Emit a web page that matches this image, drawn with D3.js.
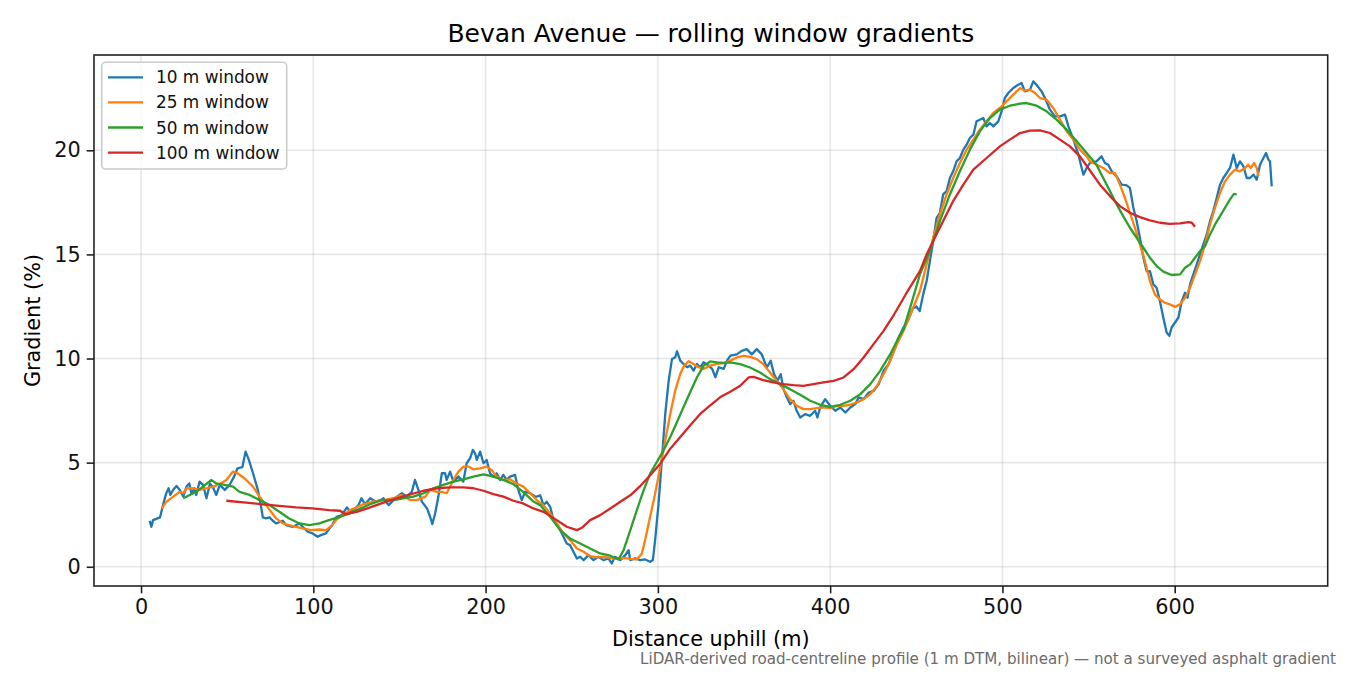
<!DOCTYPE html>
<html>
<head>
<meta charset="utf-8">
<script src="https://cdn.jsdelivr.net/npm/d3@7"></script>
<style>
  html, body { margin: 0; padding: 0; background: #fff; }
  svg { display: block; font-family: "DejaVu Sans", sans-serif; }
</style>
</head>
<body>
<svg id="chart" width="1350" height="675"></svg>
<script>
// ---- Data (distance uphill in m, gradient in %) ----
const seriesNames = ["10 m window", "25 m window", "50 m window", "100 m window"];
const seriesColors = ["#1f77b4", "#ff7f0e", "#2ca02c", "#d62728"];
const xTicks = [0, 100, 200, 300, 400, 500, 600];
const yTicks = [0, 5, 10, 15, 20];

const d10 = [5,6,7,11,13,14.5,16,17,18.7,20.6,22.5,24.5,26.4,28,29.3,31,32,34,36,38,40,42,43.7,45.7,48.6,51.4,54,56,58.8,60.7,62.6,65,67.8,69.7,70.7,72.6,74.6,76.5,78.4,82.3,84.2,88,92,94.8,96.7,99.6,102.5,104.4,107.3,109,111,
  113.5,116.5,119.5,121.5,124.3,126.2,128,130,133,136,139,140.7,143.7,145.7,148.5,151.4,154.3,157.2,159,161,163,166,167.8,169.1,170.7,172.6,174.6,176.5,177.4,179.4,181.3,184.2,187.1,189,191,192.6,193.9,194.9,196.8,198.8,200.6,202.6,204.5,206.4,208.4,210.3,212.2,214.2,217.1,219,221,222.9,225.9,
  229,231.7,233.6,235.5,237.5,239.4,242.3,245.2,247.1,249,251,253,254.9,256.9,259.7,262.6,265.5,268.4,271.3,273.2,275.1,278.2,281.1,283,284,286.8,289.7,292.6,295.5,297.1,298.4,300.4,302.3,304.3,306.3,308.2,310.1,311.1,313,314.9,316.9,318.8,320.7,322.7,324.6,326.5,329.5,331.5,333.4,335.3,338.2,340.1,342.1,
  345.8,348.7,351.6,354.5,357.4,360.3,363.2,365.5,367.4,369.4,371.3,372.9,374.9,376.8,378.7,380.6,382.6,385.5,388.4,391.3,392.6,394.2,397.1,400,403,405.9,408.8,411.7,414.6,416.5,419.4,422.4,425.3,428.2,431,433.9,436.8,439.7,442.6,445,448,450,452,
  454,456,457.9,459.8,461.8,463.7,465.6,467.6,469.5,471.4,473.4,475.3,477.3,479.2,481.1,483.1,485,486.9,488.9,490.8,492.7,494.7,497.6,499.5,501.4,503.4,506.3,509.2,511.1,513,516,517.9,519.8,522.7,524.7,527.6,530.5,533.4,536.3,538.3,541.2,544.1,546,547,548.9,
  550.8,554.6,557.5,559.5,561.4,563.4,566.3,569.2,572.1,574,576,577.9,579.8,581.8,583.7,585.6,587.6,589.5,591.4,593.4,595.3,596.9,598.2,600.2,602.1,604.1,606,607.4,608.9,610.8,612.8,614.7,616.6,618.6,620.5,622.4,624.4,626.3,628.2,630.2,632.1,634.1,636,637.9,639.9,641.8,643.7,645.7,647.6,649.5,651.5,653,654.4,655.3,656.3];
const g10 = [2.21,1.92,2.24,2.37,3.04,3.5,3.77,3.45,3.7,3.88,3.69,3.37,3.85,4.0,3.5,3.77,3.45,4.09,3.93,3.29,4.0,3.77,3.45,3.93,3.69,3.93,4.33,4.73,4.78,5.53,5.13,4.49,3.69,2.88,2.37,2.32,2.37,2.21,2.08,2.21,2.0,1.92,2.08,1.84,1.68,1.6,1.44,1.52,1.6,1.8,2.0,
  2.4,2.48,2.85,2.64,2.8,2.96,3.29,3.0,3.29,3.13,3.2,3.29,2.96,3.13,3.37,3.53,3.37,3.6,4.17,3.69,3.13,2.8,2.4,2.05,2.56,3.37,4.49,4.49,4.17,4.57,4.09,4.33,4.09,4.97,5.21,5.61,5.45,5.13,5.53,4.97,5.13,4.49,4.33,4.49,4.17,4.41,4.17,4.33,4.41,3.69,3.2,3.6,3.53,
  3.35,3.43,2.96,3.12,2.88,2.24,1.92,1.44,1.12,1.04,0.72,0.4,0.48,0.32,0.56,0.32,0.48,0.32,0.4,0.16,0.48,0.32,0.56,0.8,0.32,0.4,0.32,0.35,0.24,0.32,1.28,3.04,5.11,7.35,8.95,9.98,10.06,10.35,9.9,9.74,9.58,9.66,9.42,9.74,9.58,9.82,9.66,9.5,9.1,9.58,9.5,9.9,10.14,
  10.2,10.37,10.45,10.2,10.45,10.2,9.57,9.89,9.25,8.93,9.25,8.53,8.13,7.81,7.97,7.49,7.17,7.33,7.25,7.49,7.17,7.65,8.05,7.73,7.49,7.65,7.41,7.65,7.81,8.13,8.05,8.37,8.45,8.77,9.41,9.73,10.37,11.0,11.5,11.8,12.4,12.5,12.28,
  13.08,13.72,14.68,15.64,16.76,17.0,17.88,18.04,18.67,18.99,19.47,19.63,20.03,20.27,20.59,20.75,21.39,21.47,21.55,21.15,21.31,21.15,21.39,21.87,22.51,22.75,22.99,23.15,23.23,22.83,22.91,23.31,23.15,22.83,22.51,21.95,21.63,21.63,21.71,21.15,20.51,19.79,19.15,18.83,19.15,
  19.39,19.47,19.71,19.39,19.31,18.99,18.75,18.35,18.32,18.19,17.24,16.6,15.8,14.84,14.2,14.2,13.56,13.4,12.76,11.96,11.25,11.09,11.49,11.73,11.96,12.76,13.16,12.92,13.56,14.04,14.52,15.0,15.48,15.96,16.6,17.08,17.72,18.35,18.67,18.91,19.15,19.79,19.15,19.47,19.23,18.67,18.67,18.83,18.59,19.31,19.63,19.87,19.55,19.47,18.27];

const d25 = [12,14.8,18.7,22.5,24.5,26.4,30,34,38,42,45.7,49.5,53.4,56,60,65,68.8,72.6,75.5,78.4,82.3,86,90,94,98.6,103.5,107.3,111,
  113.5,117.3,121.3,125.1,129,134.8,140.6,146.6,151.3,156.2,160.1,165,167.8,171.7,174.6,177.4,181.3,184.2,187.1,190,192.9,196.8,200.6,203.5,206.4,210.3,214.2,218,221.9,225.9,
  229.8,233.6,237.5,241.3,245.2,249,253,256.9,260.7,264.6,268.4,272.3,276.2,280.1,284,287.8,290.7,292.6,295.5,298.4,301.4,304.3,307.2,310.1,313,315.3,317.8,320.7,323.6,326.5,330.4,334.3,338.2,342.1,
  345.8,349.7,353.5,357.4,361.2,365.1,368.9,372.8,376.7,380.6,384.5,388.4,392.2,396.1,400,403.9,407.8,411.6,415.5,419.4,423.3,427.2,431,434.9,438.8,442.6,447,
  452.1,456,459.8,463.7,467.6,471.4,475.3,479.2,483.1,486.9,490.8,494.7,498.5,502.4,506.3,510.2,513,516,518.9,521.8,525.6,529.5,533.4,537.3,541.2,545,548.9,
  550.8,554.6,558.5,562.4,565.3,568.2,571.1,574,576.9,579.8,582.7,585.6,588.5,591.4,594.3,597.2,600.2,603.1,606,608.9,611.8,614.7,617.6,620.5,623.4,626.3,629.2,632.1,635,637.9,640.8,642.7,644.1,646.1,647.6,648.6];
const g25 = [2.8,3.13,3.37,3.6,3.53,3.77,3.77,3.69,3.77,3.85,3.97,4.17,4.57,4.49,4.25,3.85,3.37,2.96,2.64,2.32,2.08,2.0,1.92,1.84,1.76,1.79,1.76,2.0,
  2.27,2.48,2.72,2.85,3.0,3.13,3.2,3.29,3.45,3.2,3.2,3.37,3.69,3.6,3.6,3.53,4.17,4.57,4.81,4.81,4.68,4.73,4.81,4.65,4.33,4.17,4.2,4.0,3.85,3.53,
  3.19,2.96,2.56,2.08,1.6,1.28,0.88,0.72,0.51,0.45,0.48,0.43,0.38,0.43,0.38,0.35,0.64,1.28,2.4,3.51,4.79,6.07,7.35,8.47,9.27,9.66,9.87,9.74,9.58,9.5,9.66,9.74,9.78,9.9,
  10.05,10.13,10.08,9.97,9.73,9.33,8.93,8.53,8.05,7.73,7.57,7.57,7.62,7.65,7.62,7.73,7.73,7.78,7.89,8.05,8.29,8.69,9.25,9.89,10.69,11.33,12.2,
  13.24,14.52,15.8,16.92,17.88,18.67,19.39,20.03,20.51,20.99,21.39,21.79,22.03,22.35,22.67,22.99,22.86,22.91,22.75,22.51,22.43,22.03,21.47,20.91,20.51,20.03,19.71,
  19.47,19.31,19.15,18.91,18.91,18.35,17.72,17.0,16.28,15.48,14.68,13.72,13.08,12.84,12.68,12.6,12.48,12.6,12.92,13.4,14.04,14.68,15.48,16.44,17.24,17.96,18.51,18.83,19.07,18.99,19.15,19.31,19.15,19.39,19.15,18.75];

const d50 = [24.5,28.3,32,36,40.8,43.7,48.6,53.4,57.2,63,68.8,74.6,80.3,86,92,97.7,103.5,109,
  115.5,121.3,127.2,133,139.7,146.6,152.2,158.1,164,169.7,175.5,181.3,187.1,193,198.8,204.5,210.3,216.1,221.8,227.8,
  231.7,237.5,243.3,249,254.9,260.7,266.5,272.4,277.2,280.1,284,287.8,291.7,295.5,299.4,303.3,307.2,311.1,314.9,318.8,322.7,326.6,330.4,334.3,338.2,342.1,
  347.8,353.5,359.3,365.1,370.9,376.7,382.6,388.4,394.2,400,405.9,411.7,417.5,423.3,429,434.9,439.7,442.6,447,
  452.1,457.9,463.7,469.5,475.3,481.1,486.9,492.7,498.5,504.3,510.2,514,519.8,525.6,531.4,537.3,543.1,548.9,
  554.6,558.5,562.4,566.3,570.1,574,577.9,581.8,585.6,589.5,593.4,598.2,603.1,606,608.9,611.8,614.7,617.6,620.5,623.4,626.3,629.2,632.1,634.4,636];
const g50 = [3.29,3.45,3.6,3.85,4.17,4.0,3.93,3.85,3.6,3.45,3.2,2.96,2.64,2.32,2.08,2.0,2.08,2.24,
  2.4,2.56,2.8,3.0,3.2,3.2,3.29,3.37,3.53,3.77,3.93,4.09,4.2,4.33,4.44,4.33,4.17,3.97,3.6,3.13,
  2.96,2.4,1.76,1.36,1.12,0.88,0.64,0.53,0.35,0.8,1.76,2.72,3.67,4.47,5.03,5.59,6.23,6.95,7.67,8.39,9.1,9.66,9.86,9.82,9.79,9.82,
  9.73,9.57,9.33,9.01,8.77,8.53,8.26,7.97,7.78,7.68,7.78,7.97,8.29,8.77,9.41,10.21,11.0,11.4,12.6,
  14.04,15.16,16.6,17.88,18.99,20.03,20.91,21.55,21.95,22.14,22.24,22.27,22.14,21.87,21.47,20.99,20.43,19.87,
  19.31,18.67,18.04,17.4,16.84,16.28,15.8,15.32,14.84,14.44,14.17,14.01,14.04,14.36,14.52,14.84,15.16,15.4,15.96,16.44,16.84,17.24,17.64,17.91,17.88];

const d100 = [49.5,61,70.7,80.3,90,99.6,109,115.5,118.5,125.2,133,140.7,148.5,156.3,164,171.7,179.4,187.2,193,198.8,204.5,210.3,216.1,221.8,227.8,
  233.6,241.3,247.1,253,255.9,260.7,266.5,272.4,278.2,284,289.7,295.5,301.4,307.2,313,318.8,324.7,330.4,336.3,342,347.8,352.6,355.5,361.2,367,372.9,378.7,384.5,390.3,396.1,402,407.8,413.6,419.4,425.2,431,437,444,
  452.1,456,459.8,465.6,471.4,477.3,483.1,490.8,498.5,504.3,510.2,516,521.8,527.6,533.4,539.2,545,550.8,556.6,562.4,568.2,574,579.8,585.6,591.4,597.2,603.1,607.9,609.9,611.8];
const g100 = [3.17,3.08,3.0,2.92,2.85,2.8,2.72,2.69,2.53,2.64,2.85,3.08,3.29,3.48,3.65,3.77,3.81,3.81,3.77,3.65,3.49,3.37,3.17,3.04,2.8,
  2.64,2.24,1.92,1.76,1.87,2.24,2.48,2.8,3.12,3.43,3.87,4.39,4.95,5.67,6.23,6.79,7.35,7.75,8.15,8.4,8.69,9.09,9.12,8.96,8.85,8.77,8.72,8.69,8.77,8.85,8.93,9.09,9.49,10.05,10.69,11.33,12.1,13.1,
  14.2,15.0,15.64,16.6,17.56,18.35,19.07,19.63,20.19,20.51,20.83,20.94,20.96,20.83,20.51,20.19,19.71,19.03,18.35,17.8,17.32,17.0,16.79,16.63,16.52,16.47,16.49,16.55,16.52,16.33];

const titleText = "Bevan Avenue \u2014 rolling window gradients";
const xLabel = "Distance uphill (m)";
const yLabel = "Gradient (%)";
const footnote = "LiDAR-derived road-centreline profile (1 m DTM, bilinear) \u2014 not a surveyed asphalt gradient";

// ---- Layout ----
const L = 94, R = 1327.7, T = 55, B = 586;
const svg = d3.select("#chart");
const x = d3.scaleLinear().domain([-27.3, 688.8]).range([L, R]);
const y = d3.scaleLinear().domain([-0.924, 24.576]).range([B, T]);

const allD = [d10, d25, d50, d100];
const allG = [g10, g25, g50, g100];

// grid
const grid = svg.append("g");
grid.selectAll("line.vx").data(xTicks).join("line")
  .attr("x1", d => x(d)).attr("x2", d => x(d)).attr("y1", T).attr("y2", B)
  .attr("stroke", "#b0b0b0").attr("stroke-opacity", 0.3).attr("stroke-width", 1.6);
grid.selectAll("line.hy").data(yTicks).join("line")
  .attr("y1", d => y(d)).attr("y2", d => y(d)).attr("x1", L).attr("x2", R)
  .attr("stroke", "#b0b0b0").attr("stroke-opacity", 0.3).attr("stroke-width", 1.6);

// lines
const line = d3.line().x(d => x(d[0])).y(d => y(d[1]));
allD.forEach((ds, i) => {
  const pts = ds.map((d, j) => [d, allG[i][j]]);
  svg.append("path").datum(pts)
    .attr("d", line)
    .attr("fill", "none")
    .attr("stroke", seriesColors[i])
    .attr("stroke-width", 2.3)
    .attr("stroke-linejoin", "round")
    .attr("stroke-linecap", "butt");
});

// axes
const xAxis = d3.axisBottom(x).tickValues(xTicks).tickSize(7.3).tickPadding(5.5).tickFormat(d3.format("d"));
const yAxis = d3.axisLeft(y).tickValues(yTicks).tickSize(7.3).tickPadding(6).tickFormat(d3.format("d"));
const gx = svg.append("g").attr("transform", `translate(0,${B})`).call(xAxis);
const gy = svg.append("g").attr("transform", `translate(${L},0)`).call(yAxis);
[gx, gy].forEach(g => {
  g.select(".domain").remove();
  g.selectAll(".tick line").attr("stroke", "#222").attr("stroke-width", 1.6);
  g.selectAll(".tick text").attr("fill", "#111").style("font-size", "20.8px").style("font-family", "DejaVu Sans");
});

// frame
svg.append("rect").attr("x", L).attr("y", T).attr("width", R - L).attr("height", B - T)
  .attr("fill", "none").attr("stroke", "#222").attr("stroke-width", 1.6);

// legend
const lg = svg.append("g");
lg.append("rect").attr("x", 101.7).attr("y", 62.3).attr("width", 185).attr("height", 106.7)
  .attr("rx", 4).attr("fill", "#fff").attr("fill-opacity", 0.8)
  .attr("stroke", "#cccccc").attr("stroke-width", 1.6);
seriesNames.forEach((name, i) => {
  const yy = 77.3 + i * 25.1;
  lg.append("line").attr("x1", 108).attr("x2", 143).attr("y1", yy).attr("y2", yy)
    .attr("stroke", seriesColors[i]).attr("stroke-width", 2.3);
  lg.append("text").attr("x", 156).attr("y", yy + 6).text(name)
    .style("font-size", "16.9px").attr("fill", "#111");
});

// titles
svg.append("text").attr("x", (L + R) / 2).attr("y", 42).attr("text-anchor", "middle")
  .style("font-size", "25px").attr("fill", "#000").text(titleText);
svg.append("text").attr("x", (L + R) / 2).attr("y", 646).attr("text-anchor", "middle")
  .style("font-size", "20.8px").attr("fill", "#000").text(xLabel);
svg.append("text").attr("transform", `translate(40,${(T + B) / 2}) rotate(-90)`).attr("text-anchor", "middle")
  .style("font-size", "20.8px").attr("fill", "#000").text(yLabel);
svg.append("text").attr("x", 1336).attr("y", 664).attr("text-anchor", "end")
  .style("font-size", "15.1px").attr("fill", "#6b6b6b").text(footnote);
</script>
</body>
</html>
